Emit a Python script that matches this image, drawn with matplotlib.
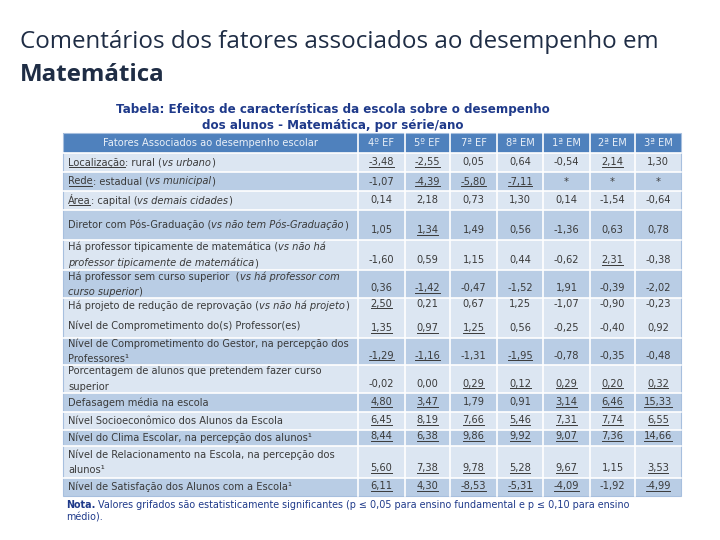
import numpy as np
import matplotlib.pyplot as plt
from matplotlib.patches import Rectangle

# ---- data ----
series = ["4º EF", "5º EF", "7ª EF", "8ª EM", "1ª EM", "2ª EM", "3ª EM"]

# each label: list of lines, each line a list of (text, style); style n/i/u
labels = [
    [[("Localização", "u"), (": rural (", "n"), ("vs urbano", "i"), (")", "n")]],
    [[("Rede", "u"), (": estadual (", "n"), ("vs municipal", "i"), (")", "n")]],
    [[("Área", "u"), (": capital (", "n"), ("vs demais cidades", "i"), (")", "n")]],
    [[("Diretor com Pós-Graduação (", "n"), ("vs não tem Pós-Graduação", "i"), (")", "n")]],
    [[("Há professor tipicamente de matemática (", "n"), ("vs não há", "i")],
     [("professor tipicamente de matemática", "i"), (")", "n")]],
    [[("Há professor sem curso superior  (", "n"), ("vs há professor com", "i")],
     [("curso superior", "i"), (")", "n")]],
    [[("Há projeto de redução de reprovação (", "n"), ("vs não há projeto", "i"), (")", "n")]],
    [[("Nível de Comprometimento do(s) Professor(es)", "n")]],
    [[("Nível de Comprometimento do Gestor, na percepção dos", "n")],
     [("Professores¹", "n")]],
    [[("Porcentagem de alunos que pretendem fazer curso", "n")],
     [("superior", "n")]],
    [[("Defasagem média na escola", "n")]],
    [[("Nível Socioeconômico dos Alunos da Escola", "n")]],
    [[("Nível do Clima Escolar, na percepção dos alunos¹", "n")]],
    [[("Nível de Relacionamento na Escola, na percepção dos", "n")],
     [("alunos¹", "n")]],
    [[("Nível de Satisfação dos Alunos com a Escola¹", "n")]],
]

values = [
    [-3.48, -2.55, 0.05, 0.64, -0.54, 2.14, 1.30],
    [-1.07, -4.39, -5.80, -7.11, None, None, None],
    [0.14, 2.18, 0.73, 1.30, 0.14, -1.54, -0.64],
    [1.05, 1.34, 1.49, 0.56, -1.36, 0.63, 0.78],
    [-1.60, 0.59, 1.15, 0.44, -0.62, 2.31, -0.38],
    [0.36, -1.42, -0.47, -1.52, 1.91, -0.39, -2.02],
    [2.50, 0.21, 0.67, 1.25, -1.07, -0.90, -0.23],
    [1.35, 0.97, 1.25, 0.56, -0.25, -0.40, 0.92],
    [-1.29, -1.16, -1.31, -1.95, -0.78, -0.35, -0.48],
    [-0.02, 0.00, 0.29, 0.12, 0.29, 0.20, 0.32],
    [4.80, 3.47, 1.79, 0.91, 3.14, 6.46, 15.33],
    [6.45, 8.19, 7.66, 5.46, 7.31, 7.74, 6.55],
    [8.44, 6.38, 9.86, 9.92, 9.07, 7.36, 14.66],
    [5.60, 7.38, 9.78, 5.28, 9.67, 1.15, 3.53],
    [6.11, 4.30, -8.53, -5.31, -4.09, -1.92, -4.99],
]

# 1 = statistically significant (underlined)
signif = [
    [1, 1, 0, 0, 0, 1, 0],
    [0, 1, 1, 1, 0, 0, 0],
    [0, 0, 0, 0, 0, 0, 0],
    [0, 1, 0, 0, 0, 0, 0],
    [0, 0, 0, 0, 0, 1, 0],
    [0, 1, 0, 0, 0, 0, 0],
    [1, 0, 0, 0, 0, 0, 0],
    [1, 1, 1, 0, 0, 0, 0],
    [1, 1, 0, 1, 0, 0, 0],
    [0, 0, 1, 1, 1, 1, 1],
    [1, 1, 0, 0, 1, 1, 1],
    [1, 1, 1, 1, 1, 1, 1],
    [1, 1, 1, 1, 1, 1, 1],
    [1, 1, 1, 1, 1, 0, 1],
    [1, 1, 1, 1, 1, 0, 1],
]

# ---- layout (pixel units) ----
W, H = 720, 540
row_h = [19, 19, 19, 30, 30, 28, 15, 25, 27, 28, 19, 18, 16, 32, 18]
merged = [False] * 15
merged[7] = True  # row 8 shares the band of row 7
col_x = [63, 358, 405, 450, 497, 543, 590, 635, 681]
head_top, head_h = 133, 20

c_head = "#4F81BD"
c_light = "#DCE6F2"
c_mid = "#B9CDE5"
c_text = "#3a3a3a"
c_blue = "#1F3A8A"
tfont = "DejaVu Sans"
tsize = 7.1

fig = plt.figure(figsize=(7.2, 5.4), dpi=100)
ax = fig.add_axes([0, 0, 1, 1])
ax.set_xlim(0, W)
ax.set_ylim(H, 0)
ax.axis("off")

# slide title
ax.text(20, 42, "Comentários dos fatores associados ao desempenho em",
        fontsize=17.4, family="Open Sans", color="#1F2D45", va="center")
ax.text(20, 75, "Matemática", fontsize=17.4, family="Open Sans",
        fontweight="bold", color="#1F2D45", va="center")

# table title
ax.text(333, 109, "Tabela: Efeitos de características da escola sobre o desempenho",
        fontsize=8.6, fontweight="bold", color=c_blue, ha="center", va="center",
        family=tfont)
ax.text(333, 125, "dos alunos - Matemática, por série/ano",
        fontsize=8.6, fontweight="bold", color=c_blue, ha="center", va="center",
        family=tfont)

tw = col_x[-1] - col_x[0]
ax.add_patch(Rectangle((col_x[0], head_top), tw, head_h, color=c_head, lw=0))
ax.text((col_x[0] + col_x[1]) / 2, head_top + head_h / 2,
        "Fatores Associados ao desempenho escolar", color="#EAF0F8",
        fontsize=tsize, ha="center", va="center", family=tfont)
for j, s in enumerate(series):
    ax.text((col_x[j + 1] + col_x[j + 2]) / 2, head_top + head_h / 2, s,
            color="#EAF0F8", fontsize=tsize, ha="center", va="center", family=tfont)

underlined = []
top = head_top + head_h
band = 0
for i, h in enumerate(row_h):
    if i > 0 and not merged[i]:
        band += 1
    col = c_light if band % 2 == 0 else c_mid
    ax.add_patch(Rectangle((col_x[0], top), tw, h, color=col, lw=0))
    if not merged[i]:
        ax.plot([col_x[0], col_x[-1]], [top, top], color="white", lw=1.2)

    # label
    lines = labels[i]
    n = len(lines)
    cy = top + h / 2
    for k, line in enumerate(lines):
        y = cy + (k - (n - 1) / 2) * 15.5
        prev = None
        for txt, st in line:
            kw = dict(fontsize=tsize, color=c_text, family=tfont,
                      style="italic" if st == "i" else "normal")
            if prev is None:
                t = ax.text(68, y, txt, va="center", ha="left", **kw)
            else:
                t = ax.annotate(txt, xy=(1, 0), xycoords=prev,
                                va="bottom", ha="left", **kw)
            if st == "u":
                underlined.append(t)
            prev = t

    # values
    vy = top + h - 9.5
    for j, v in enumerate(values[i]):
        s = "*" if v is None else f"{v:.2f}".replace(".", ",")
        t = ax.text((col_x[j + 1] + col_x[j + 2]) / 2, vy, s, fontsize=tsize,
                    color=c_text, ha="center", va="center", family=tfont)
        if signif[i][j]:
            underlined.append(t)
    top += h

# vertical separators
for x in col_x[1:-1]:
    ax.plot([x, x], [head_top, top], color="white", lw=1.2)
ax.add_patch(Rectangle((col_x[0], head_top), tw, top - head_top, fill=False,
                       ec="#A7BFDE", lw=0.8))

# note
nota = ax.text(66, 505, "Nota.", fontsize=6.9, fontweight="bold",
               color=c_blue, va="center", family=tfont)
ax.annotate(" Valores grifados são estatisticamente significantes (p ≤ 0,05 para ensino fundamental e p ≤ 0,10 para ensino",
            xy=(1, 0), xycoords=nota, va="bottom", ha="left",
            fontsize=6.9, color=c_blue, family=tfont)
ax.text(66, 518, "médio).", fontsize=6.9, color=c_blue, va="center", family=tfont)

# underline pass
fig.canvas.draw()
r = fig.canvas.get_renderer()
inv = ax.transData.inverted()
for t in underlined:
    bb = t.get_window_extent(r)
    (x0, y0), (x1, _) = inv.transform([(bb.x0, bb.y0), (bb.x1, bb.y1)])
    ax.plot([x0 + 0.5, x1 - 0.5], [y0 - 1.0, y0 - 1.0], color=c_text, lw=0.7)

fig.savefig("out.png", dpi=100)
